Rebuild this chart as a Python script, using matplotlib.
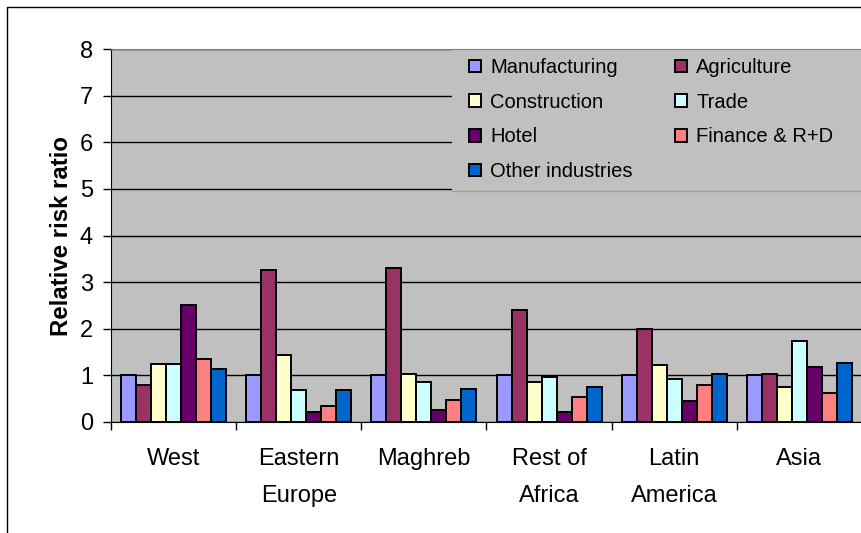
import matplotlib
matplotlib.use("Agg")
import matplotlib.pyplot as plt
import numpy as np
from matplotlib.patches import Rectangle
from matplotlib.lines import Line2D

plt.rcParams['font.family'] = ['Liberation Sans', 'DejaVu Sans']

regions = ["West", "Eastern\nEurope", "Maghreb", "Rest of\nAfrica", "Latin\nAmerica", "Asia"]
series_names = ["Manufacturing", "Agriculture", "Construction", "Trade",
                "Hotel", "Finance & R+D", "Other industries"]
manufacturing = [1.00, 1.00, 1.00, 1.00, 1.00, 1.00]
agriculture   = [0.79, 3.27, 3.30, 2.40, 1.99, 1.04]
construction  = [1.25, 1.43, 1.04, 0.86, 1.22, 0.74]
trade         = [1.25, 0.69, 0.86, 0.96, 0.92, 1.74]
hotel         = [2.51, 0.22, 0.26, 0.21, 0.44, 1.18]
finance       = [1.36, 0.35, 0.48, 0.53, 0.79, 0.62]
other         = [1.14, 0.69, 0.70, 0.74, 1.04, 1.27]
series = [manufacturing, agriculture, construction, trade, hotel, finance, other]
colors = ["#9999FF", "#993366", "#FFFFCC", "#CCFFFF", "#660066", "#FF8080", "#0066CC"]

W, H = 861, 533
fig = plt.figure(figsize=(W/100, H/100), dpi=100)
fig.patch.set_facecolor("white")
# chart-area border (cropped on right/bottom)
fig.patches.append(Rectangle((7/W, -0.1), 1.2, (H-7)/H + 0.1, transform=fig.transFigure,
                             fill=False, edgecolor="black", linewidth=1.0))

ax = fig.add_axes([111/W, (H-422)/H, (862-111)/W, (422-49)/H])
ax.set_facecolor("#C0C0C0")

x = np.arange(len(regions))
bw = 0.12
handles = []
for i, (vals, c, name) in enumerate(zip(series, colors, series_names)):
    b = ax.bar(x + (i - 3) * bw, vals, width=bw, color=c, edgecolor="black",
               linewidth=1.4, label=name, zorder=3)
    handles.append(b)

ax.set_xlim(-0.5, 5.5)
ax.set_ylim(0, 8)
ax.set_yticks(range(0, 9))
ax.yaxis.grid(True, color="black", linewidth=1.0, zorder=1)
ax.set_axisbelow(True)
ax.tick_params(axis='y', labelsize=17, length=6, width=1, pad=7, color="black")
ax.set_xticks(x)
ax.set_xticklabels(regions, fontsize=17, linespacing=1.85)
ax.set_xticks(np.arange(-0.5, 6.0, 1.0), minor=True)
ax.tick_params(axis='x', which='major', length=0, pad=19)
ax.tick_params(axis='x', which='minor', length=6, width=1, direction='out')
for lbl in ax.get_xticklabels():
    lbl.set_verticalalignment('top')

for s in ["top", "right"]:
    ax.spines[s].set_color("#808080")
ax.spines["left"].set_color("black")
ax.spines["bottom"].set_color("black")

ax.set_ylabel("Relative risk ratio", fontsize=17.3, fontweight="bold", labelpad=5)

# legend background box (no visible left edge, light line at bottom)
ax.add_patch(Rectangle((452/W, (H-191)/H), 0.6, (191-50)/H, transform=fig.transFigure,
                       facecolor="#C0C0C0", edgecolor="none",
                       zorder=4, clip_on=False))
ax.add_line(Line2D([452/W, 1.0], [(H-191)/H, (H-191)/H], transform=fig.transFigure,
                   color="#A0A0A0", linewidth=1.0, zorder=4, clip_on=False))

order = [0, 2, 4, 6, 1, 3, 5]
leg = ax.legend([handles[i] for i in order], [series_names[i] for i in order],
                ncol=2, loc="upper left",
                bbox_to_anchor=(469/W, (H-58)/H), bbox_transform=fig.transFigure,
                fontsize=14.5, frameon=False,
                handlelength=0.6, handleheight=0.6, handletextpad=0.45,
                columnspacing=2.1, labelspacing=0.78, borderpad=0,
                borderaxespad=0)
leg.set_zorder(5)

fig.savefig("out.png", dpi=100)
